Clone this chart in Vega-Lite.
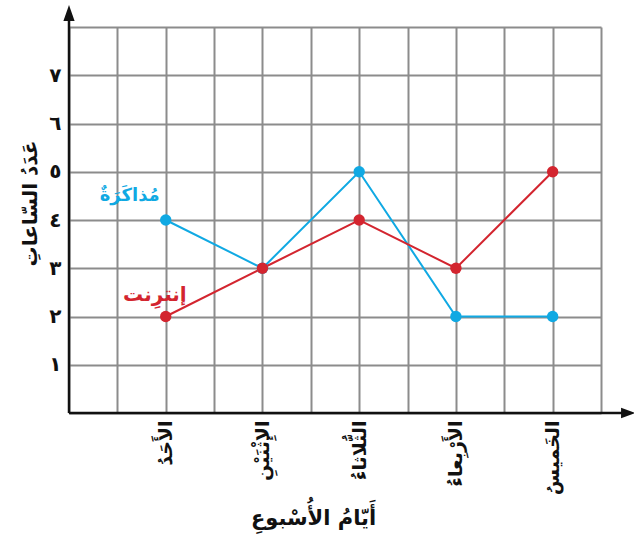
{
  "$schema": "https://vega.github.io/schema/vega-lite/v6.json",
  "width": 532,
  "height": 386,
  "autosize": {"type": "none"},
  "padding": {"left": 69, "top": 27, "right": 33, "bottom": 130},
  "background": "white",
  "config": {"view": {"stroke": null}, "font": "DejaVu Sans"},
  "datasets": {
    "hours": [
      {"day": "الأحد", "order": 1, "series": "مذاكرة", "hours": 4},
      {"day": "الإثنين", "order": 2, "series": "مذاكرة", "hours": 3},
      {"day": "الثلاثاء", "order": 3, "series": "مذاكرة", "hours": 5},
      {"day": "الأربعاء", "order": 4, "series": "مذاكرة", "hours": 2},
      {"day": "الخميس", "order": 5, "series": "مذاكرة", "hours": 2},
      {"day": "الأحد", "order": 1, "series": "إنترنت", "hours": 2},
      {"day": "الإثنين", "order": 2, "series": "إنترنت", "hours": 3},
      {"day": "الثلاثاء", "order": 3, "series": "إنترنت", "hours": 4},
      {"day": "الأربعاء", "order": 4, "series": "إنترنت", "hours": 3},
      {"day": "الخميس", "order": 5, "series": "إنترنت", "hours": 5}
    ],
    "labels": [
      {"series": "مذاكرة", "label": "مُذاكَرَةٌ", "order": 1, "hours": 4},
      {"series": "إنترنت", "label": "إنترِنت", "order": 1, "hours": 2}
    ],
    "one": [{}]
  },
  "layer": [
    {
      "data": {"name": "hours"},
      "mark": {"type": "line", "strokeWidth": 2},
      "encoding": {
        "x": {
          "field": "order", "type": "quantitative",
          "scale": {"domain": [0, 5.5], "nice": false, "zero": false},
          "axis": {
            "values": [0, 0.5, 1, 1.5, 2, 2.5, 3, 3.5, 4, 4.5, 5, 5.5],
            "grid": true, "gridColor": "#8c8c8c", "gridWidth": 2, "gridOpacity": 1,
            "domain": false, "ticks": false,
            "labelExpr": "datum.value == 1 ? 'الأَحَدُ' : datum.value == 2 ? 'الإِثْنَيْنِ' : datum.value == 3 ? 'الثُّلاثاءُ' : datum.value == 4 ? 'الأَرْبِعاءُ' : datum.value == 5 ? 'الخَميسُ' : ''",
            "labelAngle": 270, "labelAlign": "right", "labelBaseline": "middle",
            "labelPadding": 7, "labelFontSize": 19, "labelFontWeight": "bold", "labelColor": "#111",
            "labelOverlap": false, "labelFlush": false,
            "title": "أَيّامُ الأُسْبوعِ", "titleFontSize": 21, "titleFontWeight": "bold", "titleColor": "#111",
            "titleX": 244, "titleY": 105, "titleAlign": "center", "titleBaseline": "middle"
          }
        },
        "y": {
          "field": "hours", "type": "quantitative",
          "scale": {"domain": [0, 8], "nice": false},
          "axis": {
            "values": [0, 1, 2, 3, 4, 5, 6, 7, 8],
            "grid": true, "gridColor": "#8c8c8c", "gridWidth": 2, "gridOpacity": 1,
            "domain": false, "ticks": false,
            "labelExpr": "datum.value >= 1 && datum.value <= 7 ? ['٠','١','٢','٣','٤','٥','٦','٧'][datum.value] : ''",
            "labelPadding": 8, "labelFontSize": 20, "labelFontWeight": "bold", "labelColor": "#111",
            "labelOverlap": false, "labelFlush": false,
            "title": "عَدَدُ السّاعاتِ", "titleFontSize": 20, "titleFontWeight": "bold", "titleColor": "#111",
            "titleX": -39, "titleY": 176, "titleAngle": 270, "titleAlign": "center", "titleBaseline": "middle"
          }
        },
        "color": {
          "field": "series", "type": "nominal",
          "scale": {"domain": ["مذاكرة", "إنترنت"], "range": ["#10a9e3", "#d3252f"]},
          "legend": null
        },
        "detail": {"field": "series"}
      }
    },
    {
      "data": {"name": "hours"},
      "mark": {"type": "point", "filled": true, "size": 130, "opacity": 1},
      "encoding": {
        "x": {"field": "order", "type": "quantitative"},
        "y": {"field": "hours", "type": "quantitative"},
        "color": {"field": "series", "type": "nominal", "legend": null}
      }
    },
    {
      "data": {"name": "one"},
      "mark": {"type": "rule", "color": "#111", "strokeWidth": 2.5},
      "encoding": {"x": {"datum": 0}, "y": {"datum": 0}, "y2": {"datum": 8.25}}
    },
    {
      "data": {"name": "one"},
      "mark": {"type": "rule", "color": "#111", "strokeWidth": 2.5},
      "encoding": {"x": {"datum": 0}, "x2": {"datum": 5.72}, "y": {"datum": 0}}
    },
    {
      "data": {"name": "one"},
      "mark": {"type": "point", "filled": true, "color": "#111", "opacity": 1, "size": 256, "shape": "M0,-1L0.7,1L-0.7,1Z"},
      "encoding": {"x": {"datum": 0}, "y": {"datum": 8.29}}
    },
    {
      "data": {"name": "one"},
      "mark": {"type": "point", "filled": true, "color": "#111", "opacity": 1, "size": 196, "shape": "M1,0L-1,0.75L-1,-0.75Z"},
      "encoding": {"x": {"datum": 5.78}, "y": {"datum": 0}}
    },
    {
      "data": {"name": "labels"},
      "transform": [{"filter": "datum.series == 'مذاكرة'"}],
      "mark": {"type": "text", "align": "right", "baseline": "middle", "dx": -6, "dy": -24, "fontSize": 18, "fontWeight": "bold"},
      "encoding": {
        "x": {"field": "order", "type": "quantitative"},
        "y": {"field": "hours", "type": "quantitative"},
        "text": {"field": "label"},
        "color": {"field": "series", "type": "nominal", "legend": null}
      }
    },
    {
      "data": {"name": "labels"},
      "transform": [{"filter": "datum.series == 'إنترنت'"}],
      "mark": {"type": "text", "align": "right", "baseline": "middle", "dx": 21, "dy": -22, "fontSize": 20, "fontWeight": "bold"},
      "encoding": {
        "x": {"field": "order", "type": "quantitative"},
        "y": {"field": "hours", "type": "quantitative"},
        "text": {"field": "label"},
        "color": {"field": "series", "type": "nominal", "legend": null}
      }
    }
  ]
}
